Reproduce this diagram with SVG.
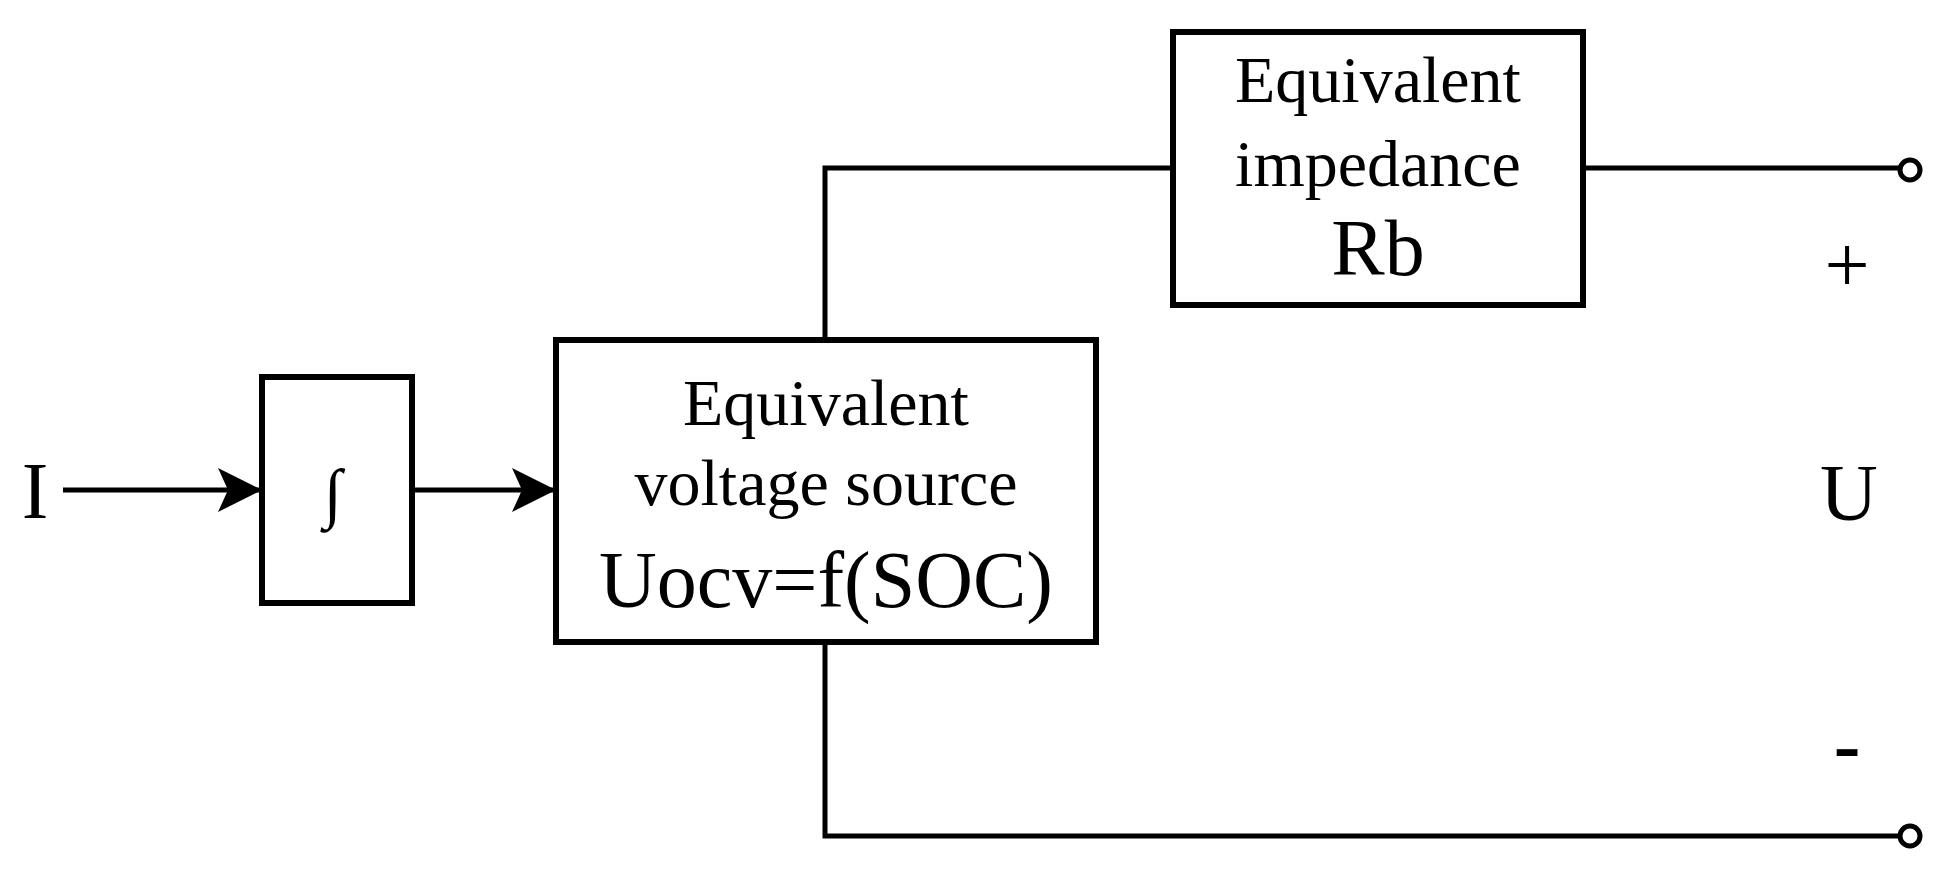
<svg xmlns="http://www.w3.org/2000/svg" width="1959" height="887" viewBox="0 0 1959 887">
<style>
.b{fill:#fff;stroke:#000;stroke-width:6}
.w{fill:none;stroke:#000;stroke-width:5}
text{font-family:"Liberation Serif",serif;fill:#000;text-anchor:middle}
.s{font-size:66px}.l{font-size:80px}
</style>
<g id="connectors">
<line class="w" x1="63" y1="490" x2="262" y2="490"/>
<path d="M218,468L262,490L218,512L228,490z"/>
<line class="w" x1="413" y1="490" x2="556" y2="490"/>
<path d="M512,468L556,490L512,512L522,490z"/>
<path class="w" d="M825,340V168H1173"/>
<path class="w" d="M1583,168H1900"/>
<path class="w" d="M825,642V836H1900"/>
<circle cx="1910" cy="170" r="10" fill="#fff" stroke="#000" stroke-width="5"/>
<circle cx="1910" cy="836" r="10" fill="#fff" stroke="#000" stroke-width="5"/>
</g>
<g id="I"><text class="l" x="35" y="518">I</text></g>
<g id="integrator"><rect class="b" x="262" y="377" width="150" height="226"/><text class="s" x="333" y="515">∫</text></g>
<g id="source"><rect class="b" x="556" y="340" width="540" height="302"/>
<text class="s" x="826" y="425">Equivalent</text><text class="s" x="826" y="505">voltage source</text><text class="l" x="826" y="607">Uocv=f(SOC)</text></g>
<g id="impedance"><rect class="b" x="1173" y="32" width="410" height="273"/>
<text class="s" x="1378" y="102">Equivalent</text><text class="s" x="1378" y="186">impedance</text><text class="l" x="1378" y="275">Rb</text></g>
<g id="labels"><text class="l" x="1847" y="292">+</text><text class="l" x="1849" y="520">U</text><text class="l" x="1847" y="772" font-weight="bold">-</text></g>
</svg>
